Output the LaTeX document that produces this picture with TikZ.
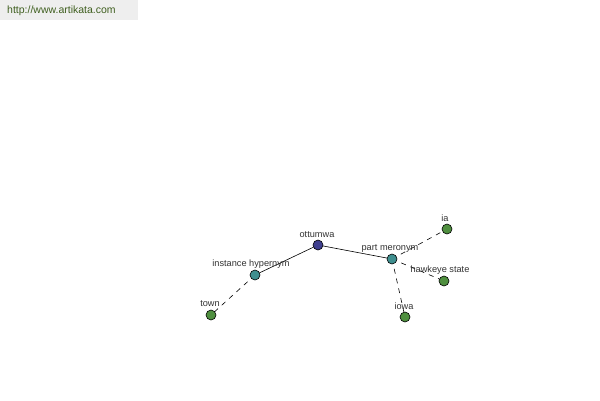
\documentclass[tikz,border=0pt]{standalone}
\usepackage{fontspec}
\setmainfont{Liberation Sans}
\begin{document}
\begin{tikzpicture}[x=1pt,y=-1pt,
  dot/.style={circle,draw=black,line width=0.6pt,minimum size=10pt,inner sep=0pt},
  root/.style={dot,fill=rootc},
  mid/.style={dot,fill=midc},
  leaf/.style={dot,fill=leafc},
  lab/.style={font=\fontsize{9.2}{10}\selectfont,text=labc,inner sep=0pt},
  solidlink/.style={draw=black,line width=0.6pt},
  dashlink/.style={draw=black,line width=0.6pt,dash pattern=on 5pt off 5pt}]
\definecolor{rootc}{HTML}{3F3F8F}
\definecolor{midc}{HTML}{3F8F8F}
\definecolor{leafc}{HTML}{4F8F3F}
\definecolor{labc}{HTML}{333333}
\definecolor{hdrbg}{HTML}{EEEEEE}
\definecolor{hdrtx}{HTML}{3F5F1F}
\useasboundingbox[fill=white] (0,0) rectangle (600,400);
\fill[hdrbg] (0,0) rectangle (138,20);
\node[anchor=west,inner sep=0pt,text=hdrtx,font=\fontsize{10.5}{12}\selectfont] (hdr) at (7,11) {http://www.artikata.com};
% links (drawn first)
\coordinate (cO) at (318,245);
\coordinate (cI) at (255,275);
\coordinate (cP) at (392,259);
\coordinate (cT) at (211,315);
\coordinate (cA) at (447,229);
\coordinate (cH) at (444,281);
\coordinate (cW) at (405,317);
\draw[solidlink] (cO) -- (cI);
\draw[solidlink] (cO) -- (cP);
\draw[dashlink] (cI) -- (cT);
\draw[dashlink] (cP) -- (cA);
\draw[dashlink] (cP) -- (cH);
\draw[dashlink] (cP) -- (cW);
% nodes
\node[root] (ottumwa) at (cO) {};
\node[mid] (inst) at (cI) {};
\node[mid] (part) at (cP) {};
\node[leaf] (town) at (cT) {};
\node[leaf] (ia) at (cA) {};
\node[leaf] (hawk) at (cH) {};
\node[leaf] (iowa) at (cW) {};
% labels
\node[lab] (lO) at (317,234.5) {ottumwa};
\node[lab] (lI) at (251,264.5) {instance hypernym};
\node[lab] (lP) at (390,248) {part meronym};
\node[lab] (lT) at (210,304) {town};
\node[lab] (lA) at (445,218) {ia};
\node[lab] (lH) at (440,270) {hawkeye state};
\node[lab] (lW) at (404,306) {iowa};
\end{tikzpicture}
\end{document}
